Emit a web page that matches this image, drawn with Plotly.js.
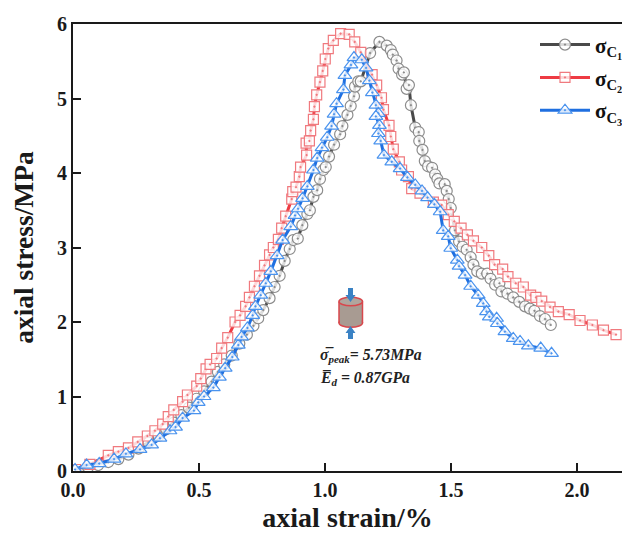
<!DOCTYPE html>
<html><head><meta charset="utf-8">
<script src="https://cdn.plot.ly/plotly-3.0.1.min.js"></script>
<style>html,body{margin:0;padding:0;background:#fff}</style>
</head><body><div id="chart" style="width:622px;height:533px"></div>
<script>
const c1x=[0.02,0.06,0.10,0.14,0.18,0.22,0.26,0.30,0.34,0.37,0.40,0.43,0.46,0.49,0.52,0.55,0.575,0.60,0.63,0.66,0.69,0.716,0.735,0.755,0.78,0.80,0.82,0.84,0.86,0.874,0.892,0.91,0.93,0.94,0.954,0.969,0.98,0.993,1.003,1.016,1.036,1.06,1.069,1.089,1.102,1.115,1.119,1.132,1.142,1.179,1.216,1.245,1.261,1.269,1.284,1.292,1.306,1.313,1.324,1.333,1.341,1.358,1.372,1.374,1.387,1.396,1.409,1.425,1.437,1.446,1.454,1.475,1.483,1.491,1.499,1.516,1.532,1.546,1.562,1.578,1.589,1.604,1.622,1.644,1.657,1.675,1.692,1.70,1.724,1.747,1.771,1.794,1.813,1.831,1.853,1.873,1.896];
const c1y=[0.01,0.05,0.08,0.12,0.16,0.22,0.30,0.38,0.47,0.56,0.65,0.75,0.85,0.97,1.07,1.20,1.33,1.43,1.55,1.71,1.83,1.95,2.05,2.16,2.32,2.47,2.62,2.82,2.98,3.10,3.12,3.30,3.45,3.50,3.68,3.77,3.92,4.04,4.08,4.22,4.38,4.52,4.63,4.78,4.90,5.03,5.16,5.23,5.23,5.61,5.76,5.71,5.65,5.59,5.51,5.40,5.32,5.35,5.13,5.18,4.91,4.61,4.55,4.43,4.31,4.16,4.09,4.07,3.98,3.92,3.86,3.85,3.76,3.65,3.53,3.23,3.08,3.01,2.97,2.87,2.77,2.68,2.65,2.65,2.58,2.50,2.52,2.41,2.38,2.33,2.27,2.21,2.18,2.15,2.08,2.04,1.96];
const c2x=[0.01,0.067,0.14,0.18,0.22,0.257,0.295,0.325,0.356,0.378,0.40,0.435,0.454,0.491,0.507,0.528,0.544,0.57,0.59,0.614,0.643,0.663,0.685,0.70,0.72,0.74,0.76,0.78,0.795,0.815,0.828,0.844,0.868,0.872,0.885,0.898,0.903,0.927,0.925,0.938,0.943,0.954,0.958,0.967,0.98,0.991,1.001,1.013,1.033,1.062,1.096,1.118,1.142,1.187,1.205,1.224,1.232,1.254,1.261,1.271,1.295,1.304,1.331,1.344,1.377,1.43,1.463,1.489,1.513,1.54,1.565,1.589,1.622,1.65,1.673,1.705,1.726,1.757,1.787,1.816,1.837,1.86,1.893,1.926,1.969,2.012,2.061,2.105,2.155];
const c2y=[0.02,0.09,0.21,0.26,0.31,0.39,0.47,0.54,0.63,0.73,0.82,0.93,1.02,1.14,1.24,1.37,1.43,1.51,1.65,1.79,2.00,2.09,2.21,2.33,2.48,2.62,2.76,2.90,3.00,3.11,3.26,3.42,3.65,3.75,3.81,3.95,4.08,4.24,4.40,4.43,4.57,4.72,4.89,5.05,5.22,5.37,5.53,5.67,5.78,5.87,5.86,5.76,5.62,5.32,5.18,5.01,4.85,4.64,4.49,4.32,4.15,4.04,3.95,3.79,3.73,3.61,3.57,3.44,3.35,3.26,3.17,3.09,3.00,2.89,2.77,2.71,2.61,2.52,2.47,2.36,2.33,2.28,2.20,2.14,2.10,2.02,1.96,1.89,1.83];
const c3x=[0.008,0.054,0.104,0.163,0.21,0.266,0.312,0.345,0.385,0.407,0.435,0.48,0.497,0.52,0.557,0.581,0.604,0.632,0.656,0.669,0.692,0.713,0.724,0.745,0.765,0.785,0.81,0.832,0.864,0.881,0.893,0.911,0.93,0.954,0.969,0.988,1.009,1.026,1.036,1.046,1.073,1.079,1.103,1.115,1.146,1.163,1.176,1.188,1.202,1.212,1.202,1.216,1.212,1.221,1.234,1.265,1.298,1.327,1.358,1.385,1.407,1.434,1.457,1.469,1.489,1.499,1.525,1.532,1.556,1.578,1.608,1.628,1.641,1.652,1.681,1.684,1.714,1.747,1.774,1.807,1.856,1.899];
const c3y=[0.02,0.08,0.10,0.16,0.23,0.29,0.35,0.44,0.54,0.59,0.71,0.81,0.92,1.00,1.12,1.26,1.38,1.53,1.69,1.80,1.92,2.09,2.21,2.36,2.52,2.68,2.89,3.10,3.28,3.43,3.52,3.66,3.82,4.04,4.20,4.34,4.48,4.63,4.79,4.93,5.12,5.31,5.45,5.55,5.52,5.41,5.24,5.08,4.91,4.80,4.76,4.64,4.53,4.43,4.24,4.15,4.06,3.94,3.84,3.76,3.67,3.58,3.48,3.23,3.15,2.99,2.83,2.75,2.63,2.48,2.36,2.25,2.14,2.07,2.05,1.98,1.87,1.78,1.74,1.68,1.65,1.58];
const seriesNames=['σ<sub>C<sub>1</sub></sub>','σ<sub>C<sub>2</sub></sub>','σ<sub>C<sub>3</sub></sub>'];
const xTicks=[0,0.5,1,1.5,2], xTickLabels=['0.0','0.5','1.0','1.5','2.0'];
const yTicks=[0,1,2,3,4,5,6];
const noteLines=['σ̅<sub>peak</sub>= 5.73MPa','E̅<sub>d</sub> = 0.87GPa'];

const serif='"Liberation Serif","Times New Roman",serif';
function tr(x,y,name,lineCol,mkCol,sym,size){
  return {x,y,name,type:'scatter',mode:'lines+markers',legendgroup:name,
    line:{color:lineCol,width:3},
    marker:{symbol:sym,size,color:'rgba(255,255,255,0.8)',line:{color:mkCol,width:1.2}}};
}
const data=[
  tr(c1x,c1y,seriesNames[0],'#4a4a4a','#8c8c8c','circle-dot',11),
  tr(c2x,c2y,seriesNames[1],'#ee3b43','#f0797e','square-dot',10),
  tr(c3x,c3y,seriesNames[2],'#1f6fe0','#4a93ee','triangle-up-dot',12)
];
const X=p=>(p-73)/252, Y=p=>(471-p)/74.5;
function P(cmds){return cmds.map(c=>typeof c==='string'?c:X(c[0])+','+Y(c[1])).join(' ').replace(/([MLZ]) /g,'$1');}
const iconL=339,iconR=362.5,iconT=301.5,iconB=323,ry=4.2,cx=350.5;
function ell(cy,n){
  return {type:'circle',xref:'x',yref:'y',x0:X(iconL),x1:X(iconR),y0:Y(cy-ry),y1:Y(cy+ry),line:{color:'#d8474c',width:1.5},fillcolor:n};}
const shapes=[
  {type:'rect',x0:X(iconL),x1:X(iconR),y0:Y(iconT),y1:Y(iconB),line:{width:0},fillcolor:'#a89b92'},
  ell(iconB,'#a89b92'),
  {type:'rect',x0:X(iconL+0.8),x1:X(iconR-0.8),y0:Y(iconT),y1:Y(iconB),line:{width:0},fillcolor:'#a89b92'},
  {type:'line',x0:X(iconL),x1:X(iconL),y0:Y(iconT),y1:Y(iconB),line:{color:'#d8474c',width:1.5}},
  {type:'line',x0:X(iconR),x1:X(iconR),y0:Y(iconT),y1:Y(iconB),line:{color:'#d8474c',width:1.5}},
  ell(iconT,'#b0a69e'),
  {type:'path',fillcolor:'#3a82c4',line:{width:0},path:P(['M',[cx-2.5,288],'L',[cx+2.5,288],'L',[cx+2.5,295],'L',[cx+5,295],'L',[cx,302],'L',[cx-5,295],'L',[cx-2.5,295],'Z'])},
  {type:'path',fillcolor:'#3a82c4',line:{width:0},path:P(['M',[cx-2.5,339],'L',[cx+2.5,339],'L',[cx+2.5,333],'L',[cx+5,333],'L',[cx,326],'L',[cx-5,333],'L',[cx-2.5,333],'Z'])}
];
const noteFont={family:serif,size:15.7,color:'#222',weight:'bold',style:'italic'};
const layout={
  width:622,height:533,paper_bgcolor:'#fff',plot_bgcolor:'#fff',
  margin:{l:73,r:0,t:24,b:62,autoexpand:false},
  font:{family:serif,color:'#1a1a1a'},
  xaxis:{range:[0,549/252],tickvals:xTicks,ticktext:xTickLabels,ticks:'inside',ticklen:8,tickwidth:2,tickcolor:'#1a1a1a',
    showline:true,mirror:true,linewidth:2,linecolor:'#1a1a1a',showgrid:false,zeroline:false,automargin:false,
    tickfont:{family:serif,size:20,weight:'bold'},
    title:{text:'axial strain/%',font:{family:serif,size:28,weight:'bold'},standoff:18}},
  yaxis:{range:[0,6],tickvals:yTicks,ticks:'inside',ticklen:8,tickwidth:2,tickcolor:'#1a1a1a',
    showline:true,linewidth:2,linecolor:'#1a1a1a',showgrid:false,zeroline:false,automargin:false,
    tickfont:{family:serif,size:20,weight:'bold'},
    title:{text:'axial stress/MPa',font:{family:serif,size:27.5,weight:'bold'},standoff:15}},
  legend:{x:(535-73)/549,y:0.999,xanchor:'left',yanchor:'top',itemwidth:50,traceorder:'grouped',tracegroupgap:2.5,
    bgcolor:'rgba(0,0,0,0)',font:{family:serif,size:21,weight:'bold',color:'#111'}},
  shapes,
  annotations:[
    {x:X(318),y:Y(355),xanchor:'left',yanchor:'middle',text:noteLines[0],showarrow:false,font:noteFont},
    {x:X(318),y:Y(378),xanchor:'left',yanchor:'middle',text:noteLines[1],showarrow:false,font:noteFont}
  ]
};
Plotly.newPlot('chart',data,layout,{displayModeBar:false,responsive:false});
</script></body></html>
